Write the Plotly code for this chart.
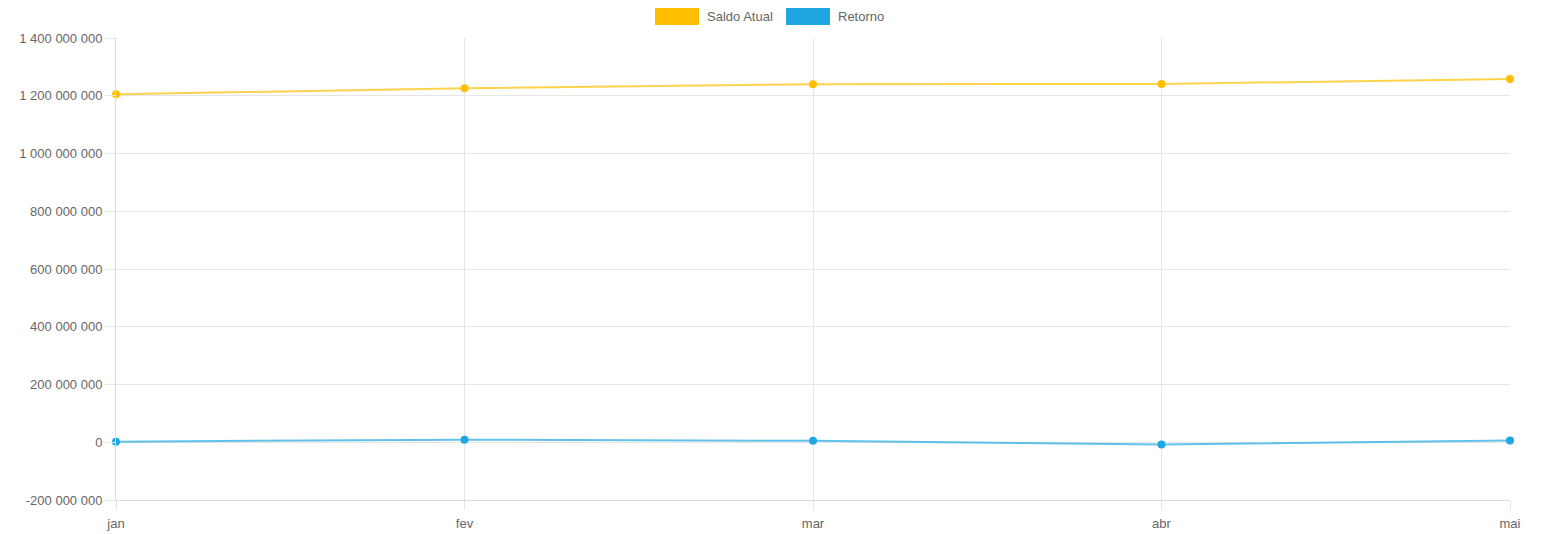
import plotly.graph_objects as go

months = ["jan", "fev", "mar", "abr", "mai"]
saldo_atual = [1205000000, 1226000000, 1240000000, 1241000000, 1258000000]
retorno = [2000000, 9000000, 5000000, -8000000, 6000000]
y_ticks = [-200000000, 0, 200000000, 400000000, 600000000, 800000000, 1000000000, 1200000000, 1400000000]
y_tick_labels = ["{:,}".format(v).replace(",", " ") for v in y_ticks]

x_idx = list(range(len(months)))
c_saldo = "#FFBF00"
c_ret = "#1FA7E1"

fig = go.Figure()
fig.add_trace(go.Scatter(x=x_idx, y=saldo_atual, mode="lines+markers", name="Saldo Atual",
                         line=dict(color="rgba(255,191,0,0.7)", width=2),
                         marker=dict(color=c_saldo, size=8), cliponaxis=False, showlegend=False))
fig.add_trace(go.Scatter(x=x_idx, y=retorno, mode="lines+markers", name="Retorno",
                         line=dict(color="rgba(31,167,225,0.7)", width=2),
                         marker=dict(color=c_ret, size=8), cliponaxis=False, showlegend=False))

# legend drawn as boxes + labels (pixel positions in reference image)
PX0, PX1, PY0, PY1 = 116, 1510, 38, 500
def px(x):
    return (x - PX0) / (PX1 - PX0)
def py(y):
    return (PY1 - y) / (PY1 - PY0)

legend_items = [("Saldo Atual", c_saldo, 655, 699, 705), ("Retorno", c_ret, 786, 830, 836)]
shapes = []
annotations = []
for label, col, x0, x1, tx in legend_items:
    shapes.append(dict(type="rect", xref="paper", yref="paper",
                       x0=px(x0), x1=px(x1), y0=py(25), y1=py(8),
                       fillcolor=col, line=dict(color=col, width=0)))
    annotations.append(dict(text=label, xref="paper", yref="paper",
                            x=px(tx), y=py(16.5),
                            xanchor="left", yanchor="middle", showarrow=False,
                            font=dict(size=13, color="#666666")))

# page body has an 8px margin
W, H = 1526, 526
L, T = 108, 30
fig.update_layout(
    width=W, height=H,
    margin=dict(l=L, r=W - L - (PX1 - PX0), t=T, b=H - T - (PY1 - PY0), autoexpand=False),
    paper_bgcolor="white", plot_bgcolor="white",
    font=dict(family="Liberation Sans, Arial, sans-serif", size=13, color="#666666"),
    shapes=shapes, annotations=annotations,
    xaxis=dict(tickvals=x_idx, ticktext=months, range=[0, 4], automargin=False,
               showgrid=True, gridcolor="#e6e6e6", gridwidth=1,
               ticks="outside", ticklen=9, tickcolor="#e6e6e6", ticklabelstandoff=2,
               showline=True, linecolor="#dcdcdc", zeroline=False),
    yaxis=dict(range=[-200000000, 1400000000], tickvals=y_ticks, ticktext=y_tick_labels,
               automargin=False,
               showgrid=True, gridcolor="#e6e6e6", gridwidth=1,
               ticks="outside", ticklen=10, tickcolor="#e6e6e6",
               showline=True, linecolor="#dcdcdc", zeroline=False),
)

fig.write_html("out.html")
